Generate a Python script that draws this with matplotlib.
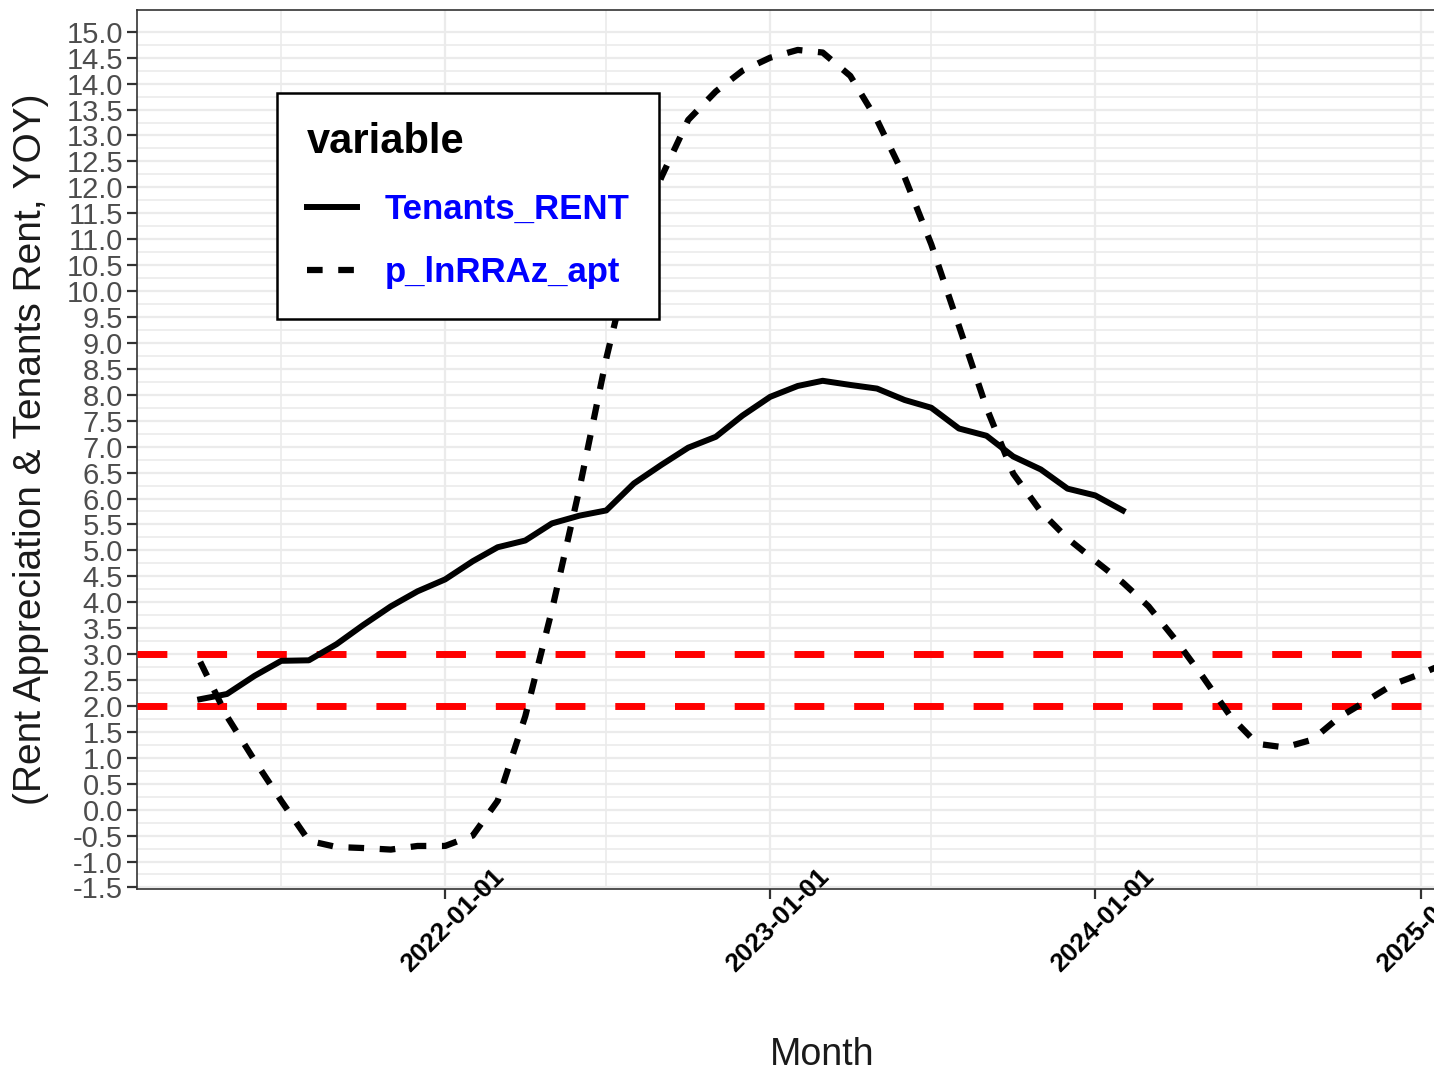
import matplotlib
matplotlib.use("Agg")
import matplotlib.pyplot as plt
import matplotlib.transforms as mtransforms
import numpy as np
import pandas as pd

plt.rcParams['font.family'] = ['Liberation Sans', 'DejaVu Sans']

# monthly data
rent_months = pd.date_range('2021-04-01', '2024-02-01', freq='MS')
tenants_rent = [2.13, 2.23, 2.58, 2.87, 2.88, 3.19, 3.56, 3.92, 4.21,
                4.44, 4.79, 5.06, 5.19, 5.52, 5.67, 5.77, 6.29, 6.65, 6.98, 7.19, 7.60,
                7.96, 8.17, 8.27, 8.19, 8.12, 7.90, 7.75, 7.35, 7.21, 6.81, 6.56, 6.19,
                6.06, 5.77]

apt_months = pd.date_range('2021-04-01', '2025-02-01', freq='MS')
p_lnrraz_apt = [2.85, 1.80, 0.95, 0.17, -0.60, -0.72, -0.74, -0.77, -0.70,
                -0.70, -0.50, 0.17, 1.80, 3.85, 6.20, 8.70, 10.90, 12.20, 13.30, 13.85, 14.25,
                14.50, 14.65, 14.60, 14.15, 13.30, 12.20, 10.90, 9.33, 7.75, 6.48, 5.75, 5.23,
                4.80, 4.38, 3.92, 3.26, 2.56, 1.80, 1.27, 1.20, 1.35, 1.78, 2.10, 2.42,
                2.62, 2.85]

ref_lines = [2.0, 3.0]
y_ticks = np.arange(-1.5, 15.01, 0.5)
y_minor = y_ticks[:-1] + 0.25
x_ticks = pd.to_datetime(['2022-01-01', '2023-01-01', '2024-01-01', '2025-01-01'])
x_minor = pd.to_datetime(['2021-07-01', '2022-07-01', '2023-07-01', '2024-07-01'])

fig = plt.figure(figsize=(14.34, 10.72), dpi=100)
ax = fig.add_axes([137 / 1434, 1 - 889 / 1072, (1511 - 137) / 1434, (889 - 10) / 1072])

# grid drawn by hand so the rotated date labels can sit on top of it
for y in y_ticks:
    ax.axhline(y, color='#EBEBEB', lw=1.6, zorder=1)
for y in y_minor:
    ax.axhline(y, color='#EBEBEB', lw=1.2, zorder=1)
for d in x_ticks:
    ax.axvline(d, color='#EBEBEB', lw=1.6, zorder=1)
for d in x_minor:
    ax.axvline(d, color='#EBEBEB', lw=1.2, zorder=1)

for y in ref_lines:
    ax.axhline(y, color='red', lw=5, dashes=(4.3, 4.3), zorder=2.6)

ax.plot(rent_months, tenants_rent, color='black', lw=4.3, label='Tenants_RENT', zorder=3)
ax.plot(apt_months, p_lnrraz_apt, color='black', lw=4.5, dashes=(2.5, 2.5),
        label='p_lnRRAz_apt', zorder=3)

ax.set_xlim(pd.Timestamp('2021-01-20'), pd.Timestamp('2025-04-12'))
ax.set_ylim(-1.53, 15.42)

ax.set_yticks(y_ticks)
ax.set_yticklabels([f'{v:.1f}' for v in y_ticks])
ax.set_xticks(x_ticks)
ax.set_xticklabels([d.strftime('%Y-%m-%d') for d in x_ticks], rotation=45,
                   ha='center', va='center', rotation_mode='anchor',
                   fontweight='bold', fontsize=19)

ax.tick_params(axis='y', which='major', length=7, width=1.6, color='#333333',
               labelcolor='#4D4D4D', labelsize=21, pad=3)
ax.tick_params(axis='x', which='major', length=7, width=1.6, color='#333333',
               labelcolor='black', pad=16)

# shift rotated date labels a little to the right, like the original
shift = mtransforms.ScaledTranslation(8 / 100, 0, fig.dpi_scale_trans)
for lab in ax.get_xticklabels():
    lab.set_transform(lab.get_transform() + shift)

ax.set_axisbelow(False)
for s in ax.spines.values():
    s.set_color('#333333')
    s.set_linewidth(1.2)

ax.set_ylabel('(Rent Appreciation & Tenants Rent, YOY)', fontsize=28, color='#1a1a1a')
ax.yaxis.set_label_coords(-0.064, 0.5)
fig.text(822 / 1434, 1 - 1055 / 1072, 'Month', ha='center', va='center',
         fontsize=27, color='#1a1a1a')

leg = ax.legend(loc='upper left', bbox_to_anchor=(0.102, 0.906), title='variable',
                prop={'weight': 'bold', 'size': 25}, labelcolor='blue',
                title_fontproperties={'weight': 'bold', 'size': 30},
                alignment='left', fancybox=False, framealpha=1, edgecolor='black',
                handlelength=1.45, handletextpad=0.8, borderpad=0.85,
                labelspacing=0.88, borderaxespad=0)
leg.get_frame().set_linewidth(1.8)
leg.set_zorder(5)

fig.savefig('out.png', dpi=100)
